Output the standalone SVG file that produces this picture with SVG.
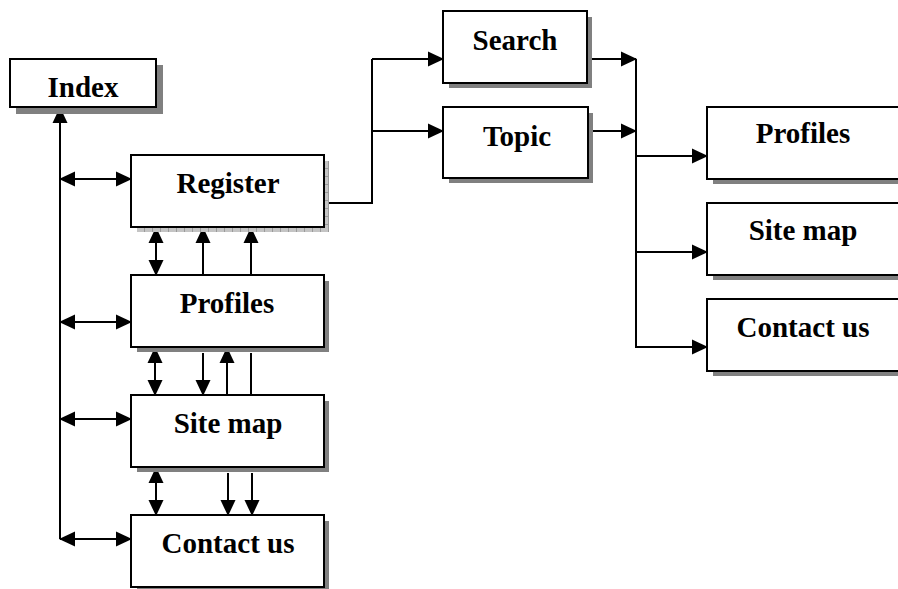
<svg xmlns="http://www.w3.org/2000/svg" width="898" height="589" viewBox="0 0 898 589">
  <style>
    .box { fill: #ffffff; stroke: #000000; stroke-width: 2; }
    .shadow { fill: #808080; }
    .hatch { fill: url(#hatch); }
    .label { font-family: "Liberation Serif", "Times New Roman", serif; font-weight: bold; font-size: 29px; fill: #000000; text-anchor: middle; }
    .wire { fill: none; stroke: #000000; stroke-width: 2; }
    .one { marker-end: url(#ah); }
    .two { marker-start: url(#ah); marker-end: url(#ah); }
  </style>
  <defs>
    <marker id="ah" viewBox="0 0 16 16" refX="15" refY="8" markerWidth="16" markerHeight="16" markerUnits="userSpaceOnUse" orient="auto-start-reverse">
      <path d="M0,0.5 L16,8 L0,15.5 z" fill="#000000"/>
    </marker>
    <pattern id="hatch" width="8" height="8" patternUnits="userSpaceOnUse">
      <rect width="8" height="8" fill="#c4c4c4"/>
      <path d="M0,0.5 H8 M0.5,0 V8" stroke="#9a9a9a" stroke-width="1"/>
    </pattern>
  </defs>

  <g id="connectors">
    <!-- Index spine and side links -->
    <path class="wire one" d="M60,539 V108"/>
    <path class="wire two" d="M60,179 H131"/>
    <path class="wire two" d="M60,322 H131"/>
    <path class="wire two" d="M60,419 H131"/>
    <path class="wire two" d="M60,539 H131"/>

    <!-- Register / Profiles -->
    <path class="wire two" d="M156,228 V275"/>
    <path class="wire one" d="M203,275 V228"/>
    <path class="wire one" d="M251,275 V228"/>

    <!-- Profiles / Site map -->
    <path class="wire two" d="M155,348 V395"/>
    <path class="wire one" d="M203,353 V395"/>
    <path class="wire one" d="M227,395 V348"/>
    <path class="wire" d="M251,353 V395"/>

    <!-- Site map / Contact us -->
    <path class="wire two" d="M156,468 V515"/>
    <path class="wire one" d="M228,473 V515"/>
    <path class="wire one" d="M252,473 V515"/>

    <!-- Register to Search and Topic -->
    <path class="wire" d="M329,203 H372 V59"/>
    <path class="wire one" d="M372,59 H443"/>
    <path class="wire one" d="M372,131 H443"/>

    <!-- Search and Topic to the right column -->
    <path class="wire one" d="M588,59 H636"/>
    <path class="wire one" d="M588,131 H636"/>
    <path class="wire" d="M636,59 V348"/>
    <path class="wire one" d="M636,156 H707"/>
    <path class="wire one" d="M636,252 H707"/>
    <path class="wire one" d="M636,347 H707"/>
  </g>

  <g id="index">
    <rect class="shadow" x="16" y="65" width="147" height="49"/>
    <rect class="box" x="10" y="59" width="146" height="48"/>
    <text class="label" x="83" y="97">Index</text>
  </g>

  <g id="register">
    <rect class="hatch" x="137" y="161" width="192" height="71"/>
    <rect class="box" x="131" y="155" width="193" height="72"/>
    <text class="label" x="228" y="193">Register</text>
  </g>

  <g id="profiles">
    <rect class="shadow" x="137" y="281" width="192" height="71"/>
    <rect class="box" x="131" y="275" width="193" height="72"/>
    <text class="label" x="227" y="313">Profiles</text>
  </g>

  <g id="site-map">
    <rect class="shadow" x="137" y="401" width="192" height="71"/>
    <rect class="box" x="131" y="395" width="193" height="72"/>
    <text class="label" x="228" y="433">Site map</text>
  </g>

  <g id="contact-us">
    <rect class="shadow" x="137" y="521" width="192" height="71"/>
    <rect class="box" x="131" y="515" width="193" height="72"/>
    <text class="label" x="228" y="553">Contact us</text>
  </g>

  <g id="search">
    <rect class="shadow" x="449" y="17" width="143" height="71"/>
    <rect class="box" x="443" y="11" width="144" height="72"/>
    <text class="label" x="515" y="50">Search</text>
  </g>

  <g id="topic">
    <rect class="shadow" x="449" y="113" width="144" height="70"/>
    <rect class="box" x="443" y="107" width="145" height="71"/>
    <text class="label" x="517" y="146">Topic</text>
  </g>

  <g id="profiles-2">
    <rect class="shadow" x="713" y="113" width="200" height="71"/>
    <rect class="box" x="707" y="107" width="200" height="72"/>
    <text class="label" x="803" y="143">Profiles</text>
  </g>

  <g id="site-map-2">
    <rect class="shadow" x="713" y="209" width="200" height="71"/>
    <rect class="box" x="707" y="203" width="200" height="72"/>
    <text class="label" x="803" y="240">Site map</text>
  </g>

  <g id="contact-us-2">
    <rect class="shadow" x="713" y="305" width="200" height="71"/>
    <rect class="box" x="707" y="299" width="200" height="72"/>
    <text class="label" x="803" y="337">Contact us</text>
  </g>
</svg>
